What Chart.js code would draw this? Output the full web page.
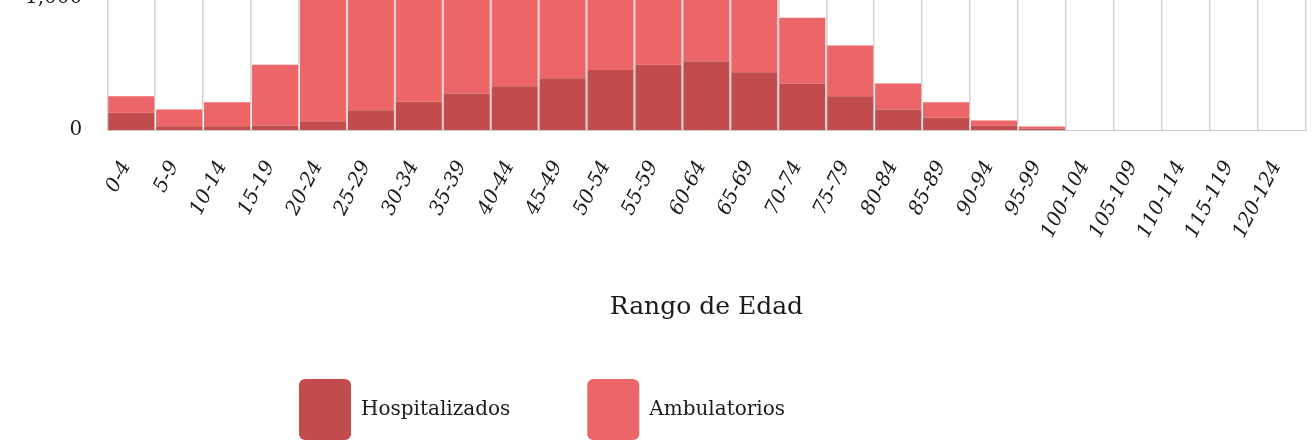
<!DOCTYPE html>
<html>
<head>
<meta charset="utf-8">
<script src="https://cdn.jsdelivr.net/npm/chart.js@4.4.1/dist/chart.umd.min.js"></script>
<style>
  html, body { margin: 0; padding: 0; background: #fff; overflow: hidden; }
  #wrap { position: relative; width: 1313px; height: 447px; overflow: hidden; }
  #myChart { position: absolute; left: 0; top: -172px; }
</style>
</head>
<body>
<div id="wrap"><canvas id="myChart" width="1330" height="642"></canvas></div>
<script>
// Rangos de edad
const rangos = ["0-4", "5-9", "10-14", "15-19", "20-24", "25-29", "30-34", "35-39", "40-44", "45-49",
  "50-54", "55-59", "60-64", "65-69", "70-74", "75-79", "80-84", "85-89", "90-94", "95-99",
  "100-104", "105-109", "110-114", "115-119", "120-124"];

const hospitalizados = [130, 29, 29, 34, 66, 150, 213, 276, 331, 391,
  454, 492, 519, 436, 349, 255, 155, 92, 34, 10,
  0, 0, 0, 0, 0];

const ambulatorios = [125, 126, 181, 458, 1384, 1750, 1737, 1624, 1519, 1359,
  1196, 958, 731, 614, 498, 383, 196, 118, 38, 16,
  0, 0, 0, 0, 0];

const ticksY = [0, 1000, 2000];

const rojoOscuro = "#C24C4C";
const rojoClaro = "#EC6669";
const serif = "'DejaVu Serif', serif";

// la leyenda va corrida a la izquierda, como en la imagen
const moverLeyenda = {
  id: "moverLeyenda",
  afterLayout(chart) {
    chart.legend.left = 222;
    chart.legend.top = 474;
  }
};

const ctx = document.getElementById("myChart").getContext("2d");

new Chart(ctx, {
  type: "bar",
  data: {
    labels: rangos,
    datasets: [{
      label: "Hospitalizados",
      data: hospitalizados,
      backgroundColor: rojoOscuro,
      borderWidth: 0,
    }, {
      label: "Ambulatorios",
      data: ambulatorios,
      backgroundColor: rojoClaro,
      borderWidth: 0,
    }],
  },
  options: {
    responsive: false,
    animation: false,
    locale: "en-US",
    devicePixelRatio: 1,
    barPercentage: 0.96,
    categoryPercentage: 1,
    layout: { padding: 0 },
    plugins: {
      tooltip: { enabled: false },
      legend: {
        position: "bottom",
        align: "start",
        labels: {
          boxWidth: 52,
          boxHeight: 61,
          useBorderRadius: true,
          borderRadius: 6,
          padding: 77,
          color: "#1a1a1a",
          font: { family: serif, size: 20 },
        },
      },
    },
    scales: {
      x: {
        stacked: true,
        grid: { display: true, drawTicks: false, color: "#d2d2d2", lineWidth: 1.5, offset: true },
        border: { display: true, color: "#cccccc" },
        ticks: {
          minRotation: 63,
          maxRotation: 63,
          padding: 27,
          labelOffset: -5,
          color: "#1a1a1a",
          font: { family: serif, size: 20, style: "italic" },
        },
        title: {
          display: true,
          text: "Rango de Edad",
          color: "#1a1a1a",
          font: { family: serif, size: 25 },
          padding: { top: 23, bottom: 0 },
        },
      },
      y: {
        stacked: true,
        min: 0,
        max: 2000,
        grid: { display: false, drawTicks: false },
        border: { display: false },
        afterBuildTicks(axis) {
          axis.ticks = ticksY.map(v => ({ value: v }));
        },
        ticks: {
          padding: 25,
          color: "#1a1a1a",
          font: { family: serif, size: 20 },
        },
      },
    },
  },
  plugins: [moverLeyenda],
});
</script>
</body>
</html>
